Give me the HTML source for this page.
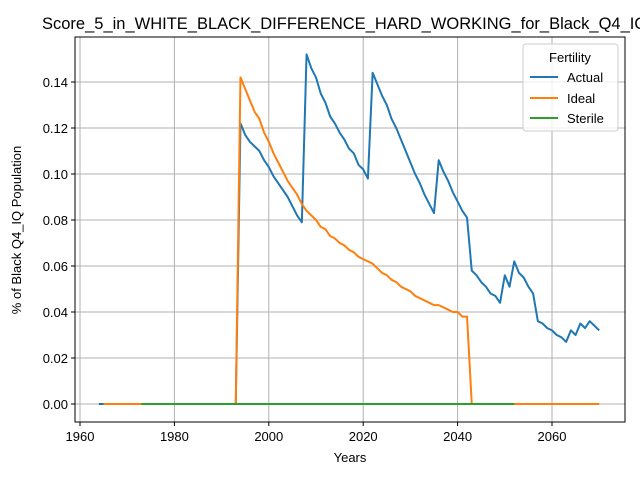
<!DOCTYPE html>
<html><head><meta charset="utf-8"><style>
body{margin:0;background:#fff;width:640px;height:480px;overflow:hidden}
text{font-family:"Liberation Sans","DejaVu Sans",sans-serif}
</style></head><body>
<svg id="chart" width="640" height="480" xmlns="http://www.w3.org/2000/svg">
<g id="grid"></g>
<g id="series"></g>
<rect x="75" y="37" width="550" height="385" fill="none" stroke="#000" stroke-width="1"/>
<g id="ticks"></g>
<text x="42" y="29" font-size="16.5">Score_5_in_WHITE_BLACK_DIFFERENCE_HARD_WORKING_for_Black_Q4_IQ</text>
<text x="350" y="462" font-size="13" text-anchor="middle">Years</text>
<text transform="translate(21,230) rotate(-90)" font-size="13" text-anchor="middle">% of Black Q4_IQ Population</text>
<g>
<rect x="523" y="44" width="95" height="87" rx="3" fill="#fff" fill-opacity="0.8" stroke="#ccc"/>
<text x="570" y="62" font-size="13" text-anchor="middle">Fertility</text>
<g><line x1="530" y1="77" x2="558" y2="77" stroke="#1f77b4" stroke-width="2"/><text x="567" y="82" font-size="13">Actual</text></g>
<g><line x1="530" y1="98" x2="558" y2="98" stroke="#ff7f0e" stroke-width="2"/><text x="567" y="103" font-size="13">Ideal</text></g>
<g><line x1="530" y1="118" x2="558" y2="118" stroke="#2ca02c" stroke-width="2"/><text x="567" y="123" font-size="13">Sterile</text></g>
</g>
</svg>
<script>
const xTicks=[1960,1980,2000,2020,2040,2060];
const yTicks=[0,0.02,0.04,0.06,0.08,0.10,0.12,0.14];
const yTickLabels=["0.00","0.02","0.04","0.06","0.08","0.10","0.12","0.14"];
const actualYears=[1964,1993,1994,1995,1996,1997,1998,1999,2000,2001,2002,2003,2004,2005,2006,2007,2008,2009,2010,2011,2012,2013,2014,2015,2016,2017,2018,2019,2020,2021,2022,2023,2024,2025,2026,2027,2028,2029,2030,2031,2032,2033,2034,2035,2036,2037,2038,2039,2040,2041,2042,2043,2044,2045,2046,2047,2048,2049,2050,2051,2052,2053,2054,2055,2056,2057,2058,2059,2060,2061,2062,2063,2064,2065,2066,2067,2068,2069,2070];
const actualValues=[0,0,.122,.117,.114,.112,.110,.106,.103,.099,.096,.093,.090,.086,.082,.079,.152,.146,.142,.135,.131,.125,.122,.118,.115,.111,.109,.104,.102,.098,.144,.139,.134,.130,.124,.120,.115,.110,.105,.100,.096,.091,.087,.083,.106,.101,.097,.092,.088,.084,.081,.058,.056,.053,.051,.048,.047,.044,.056,.051,.062,.057,.055,.051,.048,.036,.035,.033,.032,.030,.029,.027,.032,.030,.035,.033,.036,.034,.032];
const idealYears=[1965,1993,1994,1995,1996,1997,1998,1999,2000,2001,2002,2003,2004,2005,2006,2007,2008,2009,2010,2011,2012,2013,2014,2015,2016,2017,2018,2019,2020,2021,2022,2023,2024,2025,2026,2027,2028,2029,2030,2031,2032,2033,2034,2035,2036,2037,2038,2039,2040,2041,2042,2043,2070];
const idealValues=[0,0,.142,.137,.132,.127,.124,.118,.114,.109,.105,.101,.097,.094,.091,.087,.084,.082,.080,.077,.076,.073,.072,.070,.069,.067,.066,.064,.063,.062,.061,.059,.057,.056,.054,.053,.051,.050,.049,.047,.046,.045,.044,.043,.043,.042,.041,.040,.040,.038,.038,0,0];
const sterileYears=[1973,2052];
const sterileValues=[0,0];
const X=y=>80+(y-1960)*(472/100);
const Y=v=>404-v*2300;
const NS="http://www.w3.org/2000/svg";
function mk(tag,attrs,parent){const e=document.createElementNS(NS,tag);for(const k in attrs)e.setAttribute(k,attrs[k]);parent.appendChild(e);return e;}
const grid=document.getElementById('grid'),ticks=document.getElementById('ticks'),series=document.getElementById('series');
xTicks.forEach(t=>{
 const gl=mk('line',{x1:X(t),x2:X(t),y1:37,y2:422,stroke:'#b0b0b0','stroke-width':1},grid);
 
 
 mk('line',{x1:X(t),x2:X(t),y1:422,y2:426,stroke:'#000'},ticks);
 const tx=mk('text',{x:X(t),y:441,'font-size':13,'text-anchor':'middle'},ticks);
 tx.textContent=t;
 
 
});
yTicks.forEach((t,i)=>{
 const gl=mk('line',{x1:75,x2:625,y1:Y(t),y2:Y(t),stroke:'#b0b0b0','stroke-width':1},grid);
 
 
 mk('line',{x1:71,x2:75,y1:Y(t),y2:Y(t),stroke:'#000'},ticks);
 const tx=mk('text',{x:68,y:Y(t)+5,'font-size':13,'text-anchor':'end'},ticks);
 tx.textContent=yTickLabels[i];
 
 
});
function line(xs,vs,color,name){
 const p=mk('polyline',{points:xs.map((y,i)=>X(y)+','+Y(vs[i])).join(' '),fill:'none',stroke:color,'stroke-width':2,'stroke-linejoin':'round'},series);
 
 
}
line(actualYears,actualValues,'#1f77b4','actual-line');
line(idealYears,idealValues,'#ff7f0e','ideal-line');
line(sterileYears,sterileValues,'#2ca02c','sterile-line');
</script>
</body></html>
